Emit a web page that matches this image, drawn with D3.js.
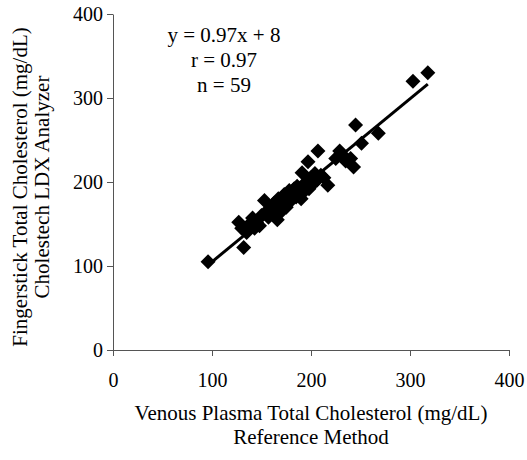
<!DOCTYPE html>
<html>
<head>
<meta charset="utf-8">
<script src="https://cdn.jsdelivr.net/npm/d3@7"></script>
<style>
  html, body { margin: 0; padding: 0; background: #fff; }
  svg { display: block; }
  text { font-family: "Liberation Serif", "Times New Roman", serif; fill: #000; }
</style>
</head>
<body>
<svg id="chart" width="527" height="460"></svg>
<script>
// Data: reference method (x) vs LDX analyzer (y)
const refValues = [96,132,127,130,135,138,141,143,145,148,150,153,155,157,160,162,163,165,167,168,170,172,173,175,176,178,180,181,183,185,186,188,190,191,192,194,195,197,198,200,202,204,206,207,210,213,217,225,229,232,235,240,243,245,251,268,303,318,166];
const ldxValues = [105,122,152,145,140,150,157,145,152,148,160,178,165,158,170,162,175,168,180,172,165,178,185,170,182,190,178,186,192,182,195,188,180,211,195,190,200,224,192,205,198,210,202,237,208,205,196,228,237,232,225,228,218,268,246,258,320,330,155];
const xTicks = [0,100,200,300,400];
const yTicks = [0,100,200,300,400];
const fitSlope = 0.97, fitIntercept = 8;
const fitRange = [96, 318];
const annotations = ["y = 0.97x + 8", "r = 0.97", "n = 59"];
const xTitle = ["Venous Plasma Total Cholesterol (mg/dL)", "Reference Method"];
const yTitle = ["Fingerstick Total Cholesterol (mg/dL)", "Cholestech LDX Analyzer"];

const FS = "20px";
const FT = "21px";
const svg = d3.select("#chart");
const x = d3.scaleLinear().domain([0,400]).range([113,509]);
const y = d3.scaleLinear().domain([0,400]).range([350,14]);

// axes
const xAxis = svg.append("g").attr("transform","translate(0,350)")
  .call(d3.axisBottom(x).tickValues(xTicks).tickSize(6).tickPadding(17).tickSizeOuter(0));
const yAxis = svg.append("g").attr("transform","translate(113,0)")
  .call(d3.axisLeft(y).tickValues(yTicks).tickSize(6).tickPadding(4).tickSizeOuter(0));
[xAxis, yAxis].forEach(g => {
  g.select(".domain").attr("stroke","#555").attr("stroke-width",1);
  g.selectAll(".tick line").attr("stroke","#555");
  g.selectAll(".tick text").style("font-family","Liberation Serif, serif").style("font-size",FS).attr("fill","#000");
});

// points
const pts = refValues.map((v,i)=>({x:v, y:ldxValues[i]}));
const h = 7.5;
svg.append("g").selectAll("path").data(pts).join("path")
  .attr("d", d => {
    const cx = x(d.x), cy = y(d.y);
    return `M${cx},${cy-h}L${cx+h},${cy}L${cx},${cy+h}L${cx-h},${cy}Z`;
  })
  .attr("fill","#000");

// regression line
svg.append("line")
  .attr("x1", x(fitRange[0])).attr("y1", y(fitSlope*fitRange[0]+fitIntercept))
  .attr("x2", x(fitRange[1])).attr("y2", y(fitSlope*fitRange[1]+fitIntercept))
  .attr("stroke","#000").attr("stroke-width",3);

// annotations
svg.append("g").selectAll("text").data(annotations).join("text")
  .attr("x",224).attr("y",(d,i)=>42+i*25)
  .attr("text-anchor","middle").style("font-size",FT).text(d=>d);

// axis titles
svg.append("g").selectAll("text").data(xTitle).join("text")
  .attr("x",311).attr("y",(d,i)=>420+i*24)
  .attr("text-anchor","middle").style("font-size",FT).text(d=>d);
svg.append("g").selectAll("text").data(yTitle).join("text")
  .attr("transform",(d,i)=>`translate(${27+i*22},187) rotate(-90)`)
  .attr("text-anchor","middle").style("font-size",FT).text(d=>d);
</script>
</body>
</html>
